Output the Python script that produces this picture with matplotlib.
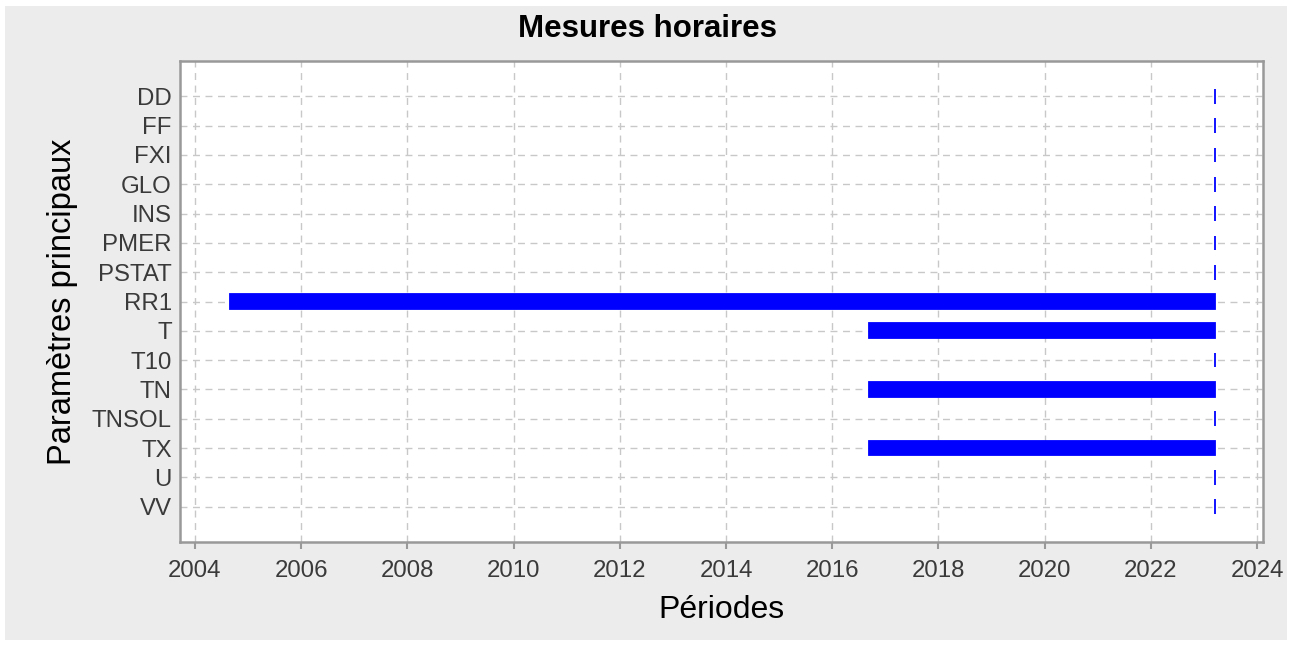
import matplotlib
matplotlib.use('Agg')
import matplotlib.pyplot as plt
from matplotlib.patches import Rectangle

# parametres et periodes de mesure (annees decimales)
params = ['DD', 'FF', 'FXI', 'GLO', 'INS', 'PMER', 'PSTAT', 'RR1',
          'T', 'T10', 'TN', 'TNSOL', 'TX', 'U', 'VV']
starts = [2023.21, 2023.21, 2023.21, 2023.21, 2023.21, 2023.21, 2023.21, 2004.67,
          2016.69, 2023.21, 2016.69, 2023.21, 2016.69, 2023.21, 2023.21]
ends = [2023.21] * len(params)
xticks = list(range(2004, 2025, 2))

plt.rcParams['font.family'] = ['Liberation Sans', 'DejaVu Sans']

fig = plt.figure(figsize=(12.94, 6.46), dpi=100, facecolor='white')
fig.patches.append(Rectangle((5 / 1294, 6 / 646), 1282 / 1294, 634 / 646,
                             transform=fig.transFigure, facecolor='#ececec',
                             edgecolor='none', zorder=-1))
ax = fig.add_axes([180 / 1294, 1 - 542 / 646, (1263 - 180) / 1294, (542 - 61) / 646])
ax.set_facecolor('white')

ypos = list(range(len(params)))
widths = [e - s for s, e in zip(starts, ends)]
ax.barh(ypos, widths, left=starts, height=0.5, color='#0000ff',
        edgecolor='#0000ff', linewidth=1.3, zorder=3)

ax.set_yticks(ypos)
ax.set_yticklabels(params)
ax.set_ylim(len(params) - 1 + 1.2, -1.2)
ax.set_xticks(xticks)
ax.set_xlim(2003.72, 2024.11)

ax.grid(True, color='#c8c8c8', linestyle=(0, (5, 4)), linewidth=1.0, zorder=0)
for s in ax.spines.values():
    s.set_color('#999999')
    s.set_linewidth(1.8)
ax.tick_params(axis='x', colors='#999999', labelcolor='#3a3a3a', labelsize=17.3,
               length=5, width=1.5, direction='out', pad=8)
ax.tick_params(axis='y', colors='#999999', labelcolor='#3a3a3a', labelsize=17.3,
               length=0, pad=6)

ax.set_xlabel('Périodes', fontsize=23, labelpad=9)
ax.set_ylabel('Paramètres principaux', fontsize=23.5, labelpad=10)
fig.text(0.5, 1 - 29 / 646, 'Mesures horaires', ha='center', va='center',
         fontsize=22.5, fontweight='bold')

fig.savefig('out.png', dpi=100, facecolor=fig.get_facecolor())
